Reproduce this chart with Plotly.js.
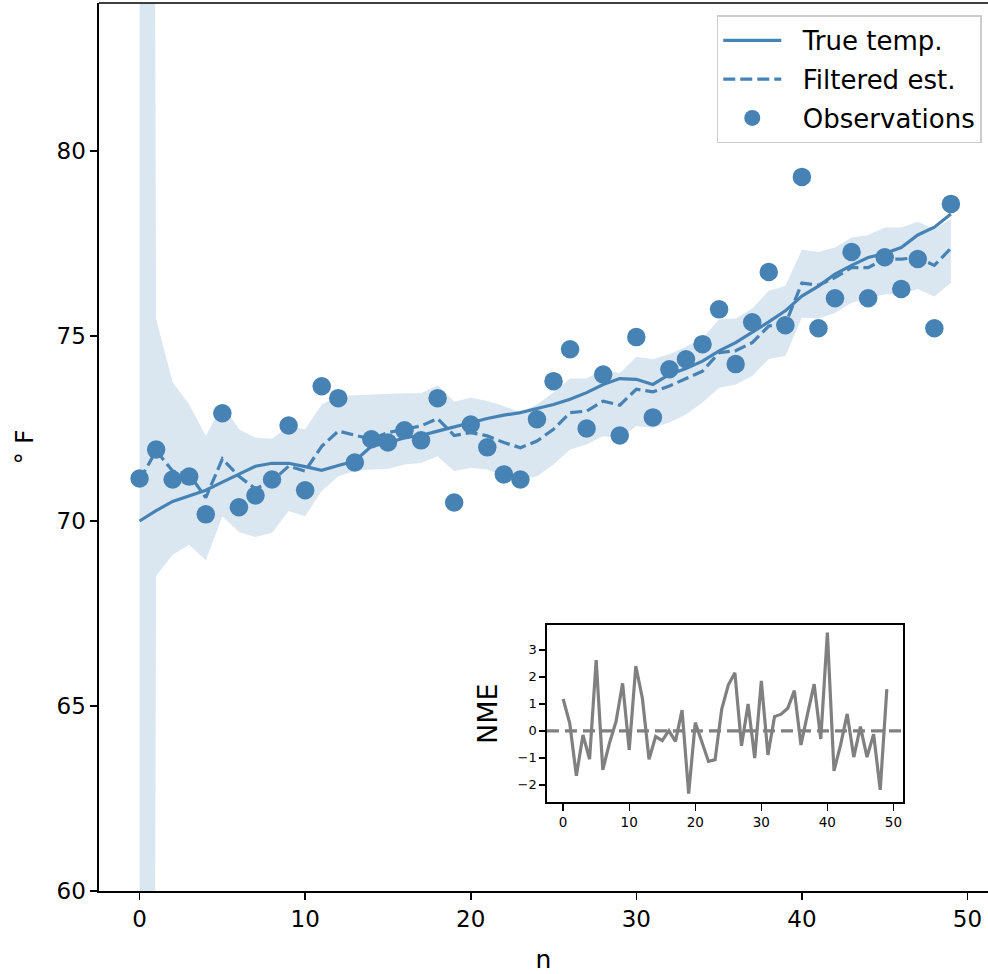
<!DOCTYPE html>
<html>
<head>
<meta charset="utf-8">
<script src="https://cdn.plot.ly/plotly-3.0.1.min.js"></script>
<style>
  html, body { margin: 0; padding: 0; background: #ffffff; }
  #chart { width: 988px; height: 974px; }
</style>
</head>
<body>
<div id="chart"></div>
<script>
// Temperature tracking: true temperature, noisy observations, filtered estimate
// with its confidence band, plus the normalized error of the estimate (inset).
const observations = [71.15, 71.93, 71.12, 71.20, 70.18, 72.91, 70.37, 70.69, 71.12, 72.58,
                      70.83, 73.64, 73.32, 71.58, 72.21, 72.12, 72.45, 72.18, 73.32, 70.50,
                      72.61, 71.99, 71.26, 71.12, 72.75, 73.78, 74.64, 72.50, 73.96, 72.31,
                      74.97, 72.80, 74.10, 74.37, 74.78, 75.72, 74.24, 75.37, 76.73, 75.29,
                      79.30, 75.21, 76.02, 77.27, 76.02, 77.13, 76.27, 77.08, 75.21, 78.57];

const trueTemp = [70.00, 70.28, 70.53, 70.67, 70.83, 71.05, 71.26, 71.48, 71.56, 71.56,
                  71.47, 71.37, 71.50, 71.62, 72.02, 72.11, 72.25, 72.31, 72.43, 72.55,
                  72.66, 72.77, 72.86, 72.93, 73.04, 73.15, 73.29, 73.47, 73.69, 73.85,
                  73.83, 73.69, 73.96, 74.12, 74.32, 74.60, 74.82, 75.09, 75.38, 75.68,
                  76.08, 76.35, 76.67, 76.91, 77.12, 77.23, 77.39, 77.73, 77.94, 78.30];

const filtered = [71.10, 71.90, 71.35, 71.26, 70.63, 71.68, 71.21, 70.87, 71.08, 71.48,
                  71.35, 72.02, 72.43, 72.31, 72.21, 72.39, 72.48, 72.57, 72.77, 72.31,
                  72.39, 72.30, 72.12, 71.98, 72.16, 72.48, 72.93, 72.97, 73.24, 73.13,
                  73.56, 73.49, 73.65, 73.85, 74.05, 74.55, 74.60, 74.82, 75.27, 75.32,
                  76.43, 76.37, 76.58, 76.85, 76.85, 77.08, 77.08, 77.12, 76.91, 77.37];

// Confidence band edges (very wide at the first step, where the prior is vague)
const bandUpper = [217.0, 75.45, 73.74, 73.15, 72.30, 73.15, 72.48, 72.25, 72.22, 72.57,
                   72.48, 73.15, 73.38, 73.40, 73.40, 73.42, 73.45, 73.45, 73.67, 73.22,
                   73.33, 73.24, 73.11, 72.93, 73.15, 73.47, 73.85, 73.85, 74.10, 73.99,
                   74.44, 74.37, 74.51, 74.71, 74.93, 75.45, 75.47, 75.74, 76.22, 76.35,
                   77.33, 77.27, 77.39, 77.66, 77.73, 77.93, 77.93, 78.09, 77.89, 78.16];

const bandLower = [-75.0, 68.52, 69.09, 69.36, 68.94, 70.13, 69.70, 69.57, 69.68, 70.27,
                   70.13, 70.81, 71.21, 71.35, 71.39, 71.41, 71.53, 71.57, 71.75, 71.35,
                   71.44, 71.39, 71.21, 71.12, 71.21, 71.53, 71.93, 72.07, 72.30, 72.22,
                   72.57, 72.52, 72.66, 72.88, 73.20, 73.60, 73.69, 73.92, 74.38, 74.46,
                   75.50, 75.47, 75.62, 75.90, 76.01, 76.13, 76.13, 76.27, 76.07, 76.44];

const nme = [1.18, 0.28, -1.66, -0.15, -1.05, 2.62, -1.44, -0.46, 0.34, 1.76,
             -0.70, 2.40, 1.20, -1.05, -0.21, -0.36, 0.01, -0.39, 0.77, -2.32,
             0.31, -0.39, -1.13, -1.07, 0.80, 1.70, 2.15, -0.55, 1.00, -1.01,
             1.85, -0.89, 0.53, 0.62, 0.84, 1.49, -0.52, 0.63, 1.73, -0.30,
             3.64, -1.48, -0.52, 0.63, -0.97, 0.16, -0.97, -0.12, -2.18, 1.55];

const mainTicksX = [0, 10, 20, 30, 40, 50];
const mainTicksY = [60, 65, 70, 75, 80];
const insetTicksY = [-2, -1, 0, 1, 2, 3];

const steps = observations.map((_, i) => i);

const BLUE = '#4682b4';
const GREY = '#808080';
const FONT = 'DejaVu Sans, sans-serif';
const PAD = '\u00a0\u00a0';   // space between legend handle and its text

const traces = [
  {
    x: steps, y: bandLower, type: 'scatter', mode: 'lines',
    line: { width: 0, color: 'rgba(0,0,0,0)' },
    showlegend: false, hoverinfo: 'skip'
  },
  {
    x: steps, y: bandUpper, type: 'scatter', mode: 'lines',
    line: { width: 0, color: 'rgba(0,0,0,0)' },
    fill: 'tonexty', fillcolor: 'rgba(70,130,180,0.2)',
    showlegend: false, hoverinfo: 'skip'
  },
  {
    x: steps, y: trueTemp, type: 'scatter', mode: 'lines', name: PAD + 'True temp.',
    legendgroup: 'a',
    line: { color: BLUE, width: 3.2 }
  },
  {
    x: steps, y: filtered, type: 'scatter', mode: 'lines', name: PAD + 'Filtered est.',
    legendgroup: 'b',
    line: { color: BLUE, width: 3.2, dash: '12px,5px' }
  },
  {
    x: steps, y: observations, type: 'scatter', mode: 'markers', name: PAD + 'Observations',
    legendgroup: 'c',
    marker: { color: BLUE, size: 18.5, line: { width: 0 } }
  },
  {
    x: steps, y: nme, type: 'scatter', mode: 'lines', xaxis: 'x2', yaxis: 'y2',
    line: { color: GREY, width: 3.2 }, showlegend: false
  }
];

const axisCommon = {
  showgrid: false, zeroline: false, showline: true, linecolor: '#000000', linewidth: 1.6,
  ticks: 'outside', ticklen: 7, tickwidth: 1.6, tickcolor: '#000000'
};

const layout = {
  width: 988, height: 974,
  margin: { l: 99, r: 0, t: 3, b: 83 },
  paper_bgcolor: '#ffffff', plot_bgcolor: 'rgba(0,0,0,0)',
  font: { family: FONT, color: '#000000', size: 23 },
  xaxis: Object.assign({}, axisCommon, {
    range: [-2.45, 51.24], tickvals: mainTicksX,
    tickfont: { size: 23 },
    title: { text: 'n', font: { size: 25 }, standoff: 20 }
  }),
  yaxis: Object.assign({}, axisCommon, {
    range: [60, 84], tickvals: mainTicksY,
    tickfont: { size: 23 },
    title: { text: '° F', font: { size: 25 }, standoff: 16 }
  }),
  xaxis2: Object.assign({}, axisCommon, {
    domain: [0.5039, 0.9044], anchor: 'y2', mirror: true,
    range: [-2.45, 51.45], tickvals: mainTicksX,
    tickfont: { size: 13.5 }, ticklen: 7, tickwidth: 1.4, linewidth: 1.6
  }),
  yaxis2: Object.assign({}, axisCommon, {
    domain: [0.0997, 0.2995], anchor: 'x2', mirror: true,
    range: [-2.65, 3.92], tickvals: insetTicksY,
    ticktext: ['\u22122', '\u22121', '0', '1', '2', '3'],
    tickfont: { size: 13 }, ticklen: 6, tickwidth: 1.4, linewidth: 1.6,
    title: { text: 'NME', font: { size: 27 }, standoff: 12 }
  }),
  shapes: [
    // top edge of the main frame
    { type: 'line', xref: 'paper', yref: 'paper', x0: 0, x1: 1, y0: 1, y1: 1,
      line: { color: '#000000', width: 1.6 } },
    // white panel behind the inset
    { type: 'rect', xref: 'x2 domain', yref: 'y2 domain', x0: 0, x1: 1, y0: 0, y1: 1,
      fillcolor: '#ffffff', line: { width: 0 }, layer: 'below' },
    // zero reference in the inset
    { type: 'line', xref: 'x2 domain', yref: 'y2', x0: 0, x1: 1, y0: 0, y1: 0,
      line: { color: GREY, width: 3.2, dash: '12px,6px' } }
  ],
  legend: {
    x: 0.993, y: 0.986, xanchor: 'right', yanchor: 'top',
    bgcolor: 'rgba(255,255,255,0.8)', bordercolor: '#cccccc', borderwidth: 1.5,
    font: { size: 26 }, traceorder: 'grouped', tracegroupgap: 2,
    itemwidth: 58
  },
  showlegend: true
};

Plotly.newPlot('chart', traces, layout, { staticPlot: true, displayModeBar: false });
</script>
</body>
</html>
